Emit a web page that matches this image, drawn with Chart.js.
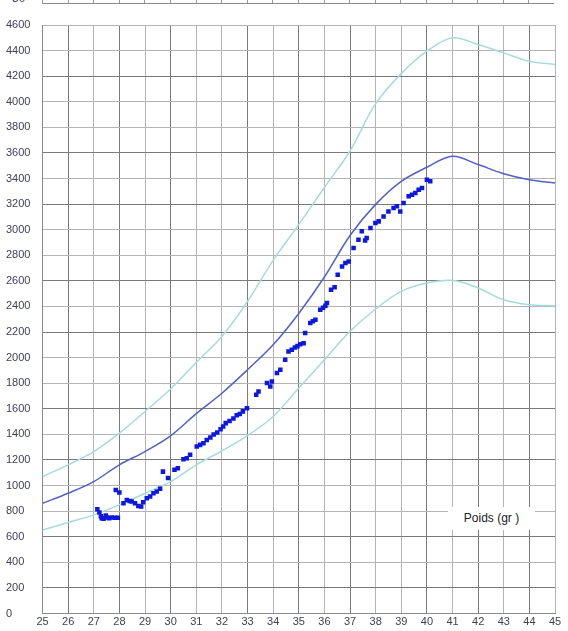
<!DOCTYPE html>
<html>
<head>
<meta charset="utf-8">
<script src="https://cdn.jsdelivr.net/npm/chart.js@4/dist/chart.umd.min.js"></script>
<style>
  html, body { margin: 0; padding: 0; background: #fff; }
  #wrap { position: relative; width: 568px; height: 631px; overflow: hidden; }
  #prev { position: absolute; left: 42px; top: 0; width: 512px; height: 3px;
          border-bottom: 1px solid #8a8a8a;
          background: repeating-linear-gradient(to right, #9a9a9a 0 1px, transparent 1px 25.6px); }
  #prevLabel { position: absolute; left: 12px; top: -9px; font: 12px "Liberation Sans", Arial, sans-serif; color: #404058; }
  #poids { position: absolute; left: 448px; top: 507px; width: 87px; height: 23px; background: #fff;
           font: 12px "Liberation Sans", Arial, sans-serif; color: #222; line-height: 23px; text-align: center; }
</style>
</head>
<body>
<div id="wrap">
  <canvas id="growth-chart" width="568" height="631"></canvas>
  <div id="prev"></div>
  <span id="prevLabel">30</span>
  <div id="poids">Poids (gr )</div>
</div>
<script>
// reference curves, one value per week of gestation
const weeks = [25, 26, 27, 28, 29, 30, 31, 32, 33, 34, 35, 36, 37, 38, 39, 40, 41, 42, 43, 44, 45];
const p90 = [1070, 1162, 1266, 1410, 1579, 1755, 1962, 2166, 2439, 2760, 3040, 3330, 3615, 3985, 4220, 4395, 4500, 4447, 4382, 4317, 4291];
const p50 = [862, 940, 1031, 1162, 1266, 1389, 1562, 1722, 1905, 2100, 2345, 2630, 2955, 3198, 3378, 3488, 3574, 3509, 3438, 3391, 3365];
const p10 = [653, 711, 771, 849, 940, 1031, 1162, 1270, 1390, 1540, 1762, 1983, 2205, 2380, 2518, 2583, 2604, 2544, 2452, 2413, 2405];

// measured weights (week, grams)
const ptWeek = [27.14, 27.22, 27.28, 27.31, 27.38, 27.47, 27.52, 27.60, 27.70, 27.83, 27.94, 27.86, 28.00,
  28.16, 28.29, 28.40, 28.48, 28.61, 28.74, 28.85, 28.93, 29.07, 29.20, 29.33, 29.46, 29.59, 29.70, 29.90,
  30.15, 30.28, 30.50, 30.63, 30.76, 31.02, 31.15, 31.28, 31.41, 31.55, 31.68, 31.82, 31.95, 32.05, 32.15,
  32.30, 32.45, 32.58, 32.70, 32.82, 32.98, 33.34, 33.43, 33.76, 33.89, 33.95, 34.15, 34.28, 34.47, 34.60,
  34.73, 34.85, 34.95, 35.06, 35.19, 35.25, 35.45, 35.55, 35.65, 35.84, 35.95, 36.04, 36.10, 36.26, 36.40,
  36.52, 36.69, 36.82, 36.95, 37.14, 37.33, 37.46, 37.59, 37.65, 37.80, 37.99, 38.12, 38.31, 38.50, 38.70,
  38.83, 38.96, 39.09, 39.29, 39.42, 39.55, 39.68, 39.81, 40.00, 40.13];
const ptWeight = [815, 790, 760, 745, 740, 765, 750, 745, 750, 748, 748, 966, 945,
  862, 888, 880, 875, 862, 841, 836, 870, 901, 914, 940, 953, 975, 1109, 1060,
  1123, 1136, 1205, 1214, 1240, 1305, 1318, 1331, 1357, 1375, 1400, 1415, 1440, 1461, 1488,
  1505, 1525, 1550, 1560, 1580, 1605, 1709, 1735, 1801, 1774, 1814, 1879, 1905, 1983, 2048,
  2061, 2080, 2090, 2105, 2113, 2192, 2270, 2285, 2296, 2374, 2390, 2405, 2427, 2531, 2550,
  2648, 2713, 2739, 2752, 2857, 2922, 2987, 2916, 2935, 3013, 3052, 3065, 3104, 3143, 3170,
  3183, 3143, 3209, 3261, 3274, 3287, 3313, 3326, 3391, 3378];

const darkWeeks = [26, 28, 30, 33, 35, 37, 40, 42, 44];
const darkWeights = [200, 600, 1200, 1600, 2200, 2600, 3200, 3600, 4200];

function pairs(xs, ys) {
  return xs.map(function (x, i) { return { x: x, y: ys[i] }; });
}

function curve(values, color) {
  return {
    type: "line",
    data: pairs(weeks, values),
    borderColor: color,
    borderWidth: 1.5,
    pointRadius: 0,
    tension: 0.35,
    fill: false,
  };
}

const tickFont = { family: "'Liberation Sans', Arial, sans-serif", size: 11 };

new Chart(document.getElementById("growth-chart"), {
  type: "scatter",
  data: {
    datasets: [
      {
        data: pairs(ptWeek, ptWeight),
        backgroundColor: "#0c18e0",
        borderColor: "#0c18e0",
        pointStyle: "rect",
        pointRadius: 3.2,
        borderWidth: 0,
      },
      curve(p50, "#5062c6"),
      curve(p90, "#a6dcdc"),
      curve(p10, "#a6dcdc"),
    ],
  },
  options: {
    responsive: false,
    animation: false,
    layout: { padding: { left: 6, top: 25, right: 13, bottom: 0 } },
    plugins: { legend: { display: false }, tooltip: { enabled: false } },
    scales: {
      x: {
        type: "linear",
        min: 25,
        max: 45,
        afterFit: function (scale) { scale.height = 17.5; },
        border: { color: "#8a8a8a" },
        grid: {
          drawTicks: false,
          color: function (ctx) {
            return darkWeeks.includes(ctx.tick.value) ? "#7a7a7a" : "#b4b4b4";
          },
        },
        ticks: {
          stepSize: 1, padding: 2, color: "#404058", font: tickFont, maxRotation: 0,
          callback: function (v) { return String(v); },
        },
      },
      y: {
        min: 0,
        max: 4600,
        afterFit: function (scale) { scale.width = 36.5; },
        border: { color: "#8a8a8a" },
        grid: {
          drawTicks: false,
          color: function (ctx) {
            return darkWeights.includes(ctx.tick.value) ? "#7a7a7a" : "#b4b4b4";
          },
        },
        ticks: {
          stepSize: 200, crossAlign: "far", color: "#404058", font: tickFont,
          callback: function (v) { return String(v); },
        },
      },
    },
  },
});
</script>
</body>
</html>
